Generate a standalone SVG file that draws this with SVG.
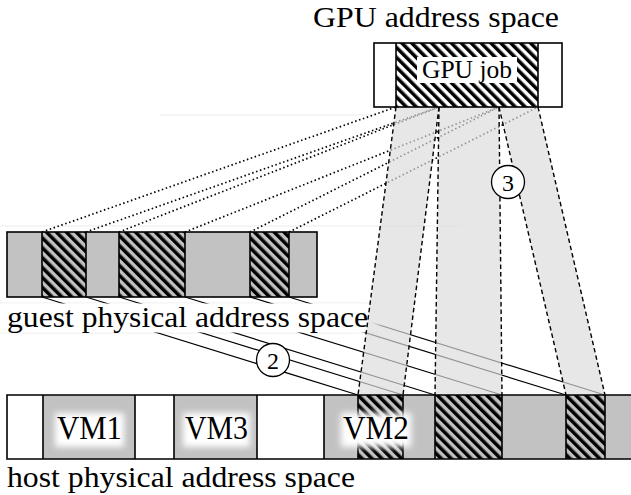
<svg xmlns="http://www.w3.org/2000/svg" width="631" height="495" viewBox="0 0 631 495">
<style>
.bar{fill:none;stroke:#000;stroke-width:1.6}
.div{stroke:#000;stroke-width:1.6}
.gray{fill:#c2c2c2}
.hatch{fill:url(#hatch)}
.dot{stroke:#000;stroke-width:1.7;stroke-dasharray:1.5 2.6;fill:none}
.sol{stroke:#000;stroke-width:1.2;fill:none}
.dash{stroke:#000;stroke-width:1.4;stroke-dasharray:4.5 3;fill:none}
.shade{fill:#dcdcdc;fill-opacity:0.68}
.faint{stroke:#ebebeb;stroke-width:1}
.circ{fill:#fff;stroke:#000;stroke-width:1.3}
.glow{fill:#fff;filter:url(#blur)}
</style>
<defs>
<pattern id="hatch" width="7" height="7" patternUnits="userSpaceOnUse" patternTransform="rotate(-45)">
<rect width="3.5" height="7" fill="#000"/>
</pattern>
<filter id="blur" x="-50%" y="-50%" width="200%" height="200%">
<feGaussianBlur stdDeviation="3"/>
</filter>
</defs>
<rect width="631" height="495" fill="#fff"/>
<g id="faint-lines">
<line class="faint" x1="160" y1="115" x2="376" y2="115"/>
<line class="faint" x1="0" y1="226" x2="460" y2="226"/>
<line class="faint" x1="0" y1="303" x2="378" y2="303"/>
<line class="faint" x1="0" y1="333" x2="378" y2="333"/>
</g>
<g id="connectors">
<g id="map-gpu-guest">
<line class="dot" x1="42" y1="232" x2="396" y2="107"/>
<line class="dot" x1="86" y1="232" x2="439" y2="107"/>
<line class="dot" x1="119" y1="232" x2="439" y2="107"/>
<line class="dot" x1="185" y1="232" x2="499" y2="107"/>
<line class="dot" x1="250" y1="232" x2="499" y2="107"/>
<line class="dot" x1="289" y1="232" x2="538" y2="107"/>
</g>
<g id="map-guest-host">
<line class="sol" x1="42" y1="297" x2="358" y2="395"/>
<line class="sol" x1="86" y1="297" x2="403" y2="395"/>
<line class="sol" x1="119" y1="297" x2="435" y2="395"/>
<line class="sol" x1="185" y1="297" x2="502" y2="395"/>
<line class="sol" x1="250" y1="297" x2="566" y2="395"/>
<line class="sol" x1="289" y1="297" x2="605" y2="395"/>
</g>
</g>
<g id="guest-label-bg">
<rect x="-10" y="303.5" width="375" height="29" fill="#fff"/>
<rect class="glow" x="355" y="306" width="22" height="24"/>
</g>
<g id="map-gpu-host">
<polygon class="shade" points="396,107 439,107 403,395 358,395"/>
<polygon class="shade" points="439,107 499,107 502,395 435,395"/>
<polygon class="shade" points="499,107 538,107 605,395 566,395"/>
<line class="dash" x1="396" y1="107" x2="358" y2="395"/>
<line class="dash" x1="439" y1="107" x2="403" y2="395"/>
<line class="dash" x1="439" y1="107" x2="435" y2="395"/>
<line class="dash" x1="499" y1="107" x2="502" y2="395"/>
<line class="dash" x1="499" y1="107" x2="566" y2="395"/>
<line class="dash" x1="538" y1="107" x2="605" y2="395"/>
</g>
<g id="gpu-space">
<rect x="374" y="43" width="188" height="64" fill="#fff"/>
<rect class="hatch" x="396" y="43" width="142" height="64"/>
<line class="div" x1="396" y1="43" x2="396" y2="107"/>
<line class="div" x1="538" y1="43" x2="538" y2="107"/>
<rect class="bar" x="374" y="43" width="188" height="64"/>
<rect x="417" y="57" width="100" height="26" fill="#fff"/>
<text font-family="Liberation Serif, Times New Roman, serif" x="422" y="78" font-size="25" textLength="90" lengthAdjust="spacingAndGlyphs">GPU job</text>
<text font-family="Liberation Serif, Times New Roman, serif" x="313" y="27" font-size="29" textLength="246" lengthAdjust="spacingAndGlyphs">GPU address space</text>
</g>
<g id="guest-space">
<rect class="gray" x="7" y="232" width="310" height="65"/>
<rect class="hatch" x="42" y="232" width="44" height="65"/>
<rect class="hatch" x="119" y="232" width="66" height="65"/>
<rect class="hatch" x="250" y="232" width="39" height="65"/>
<path class="div" d="M42 232V297M86 232V297M119 232V297M185 232V297M250 232V297M289 232V297"/>
<rect class="bar" x="7" y="232" width="310" height="65"/>
<text font-family="Liberation Serif, Times New Roman, serif" x="7" y="327" font-size="29" textLength="361" lengthAdjust="spacingAndGlyphs">guest physical address space</text>
</g>
<g id="host-space">
<rect x="7" y="395" width="640" height="64" fill="#fff"/>
<rect class="gray" x="43" y="395" width="92" height="64"/>
<rect class="gray" x="174" y="395" width="83" height="64"/>
<rect class="gray" x="324" y="395" width="320" height="64"/>
<rect class="hatch" x="358" y="395" width="45" height="64"/>
<rect class="hatch" x="435" y="395" width="67" height="64"/>
<rect class="hatch" x="566" y="395" width="39" height="64"/>
<path class="div" d="M43 395V459M135 395V459M174 395V459M257 395V459M324 395V459M358 395V459M403 395V459M435 395V459M502 395V459M566 395V459M605 395V459"/>
<path class="bar" d="M640 395H7V459H640"/>
<rect class="glow" x="55" y="413" width="69" height="34"/>
<rect class="glow" x="183" y="413" width="67" height="34"/>
<rect class="glow" x="341" y="413" width="70" height="34"/>
<text font-family="Liberation Serif, Times New Roman, serif" x="57" y="439" font-size="33" textLength="65" lengthAdjust="spacingAndGlyphs">VM1</text>
<text font-family="Liberation Serif, Times New Roman, serif" x="185" y="439" font-size="33" textLength="63" lengthAdjust="spacingAndGlyphs">VM3</text>
<text font-family="Liberation Serif, Times New Roman, serif" x="343" y="439" font-size="33" textLength="66" lengthAdjust="spacingAndGlyphs">VM2</text>
<text font-family="Liberation Serif, Times New Roman, serif" x="7" y="486.5" font-size="29" textLength="348" lengthAdjust="spacingAndGlyphs">host physical address space</text>
</g>
<g id="step-2">
<circle class="circ" cx="273" cy="360" r="16.5"/>
<text font-family="Liberation Serif, Times New Roman, serif" font-size="24" text-anchor="middle" x="273" y="368.5">2</text>
</g>
<g id="step-3">
<circle class="circ" cx="508" cy="182" r="16.5"/>
<text font-family="Liberation Serif, Times New Roman, serif" font-size="24" text-anchor="middle" x="508" y="190.5">3</text>
</g>
</svg>
